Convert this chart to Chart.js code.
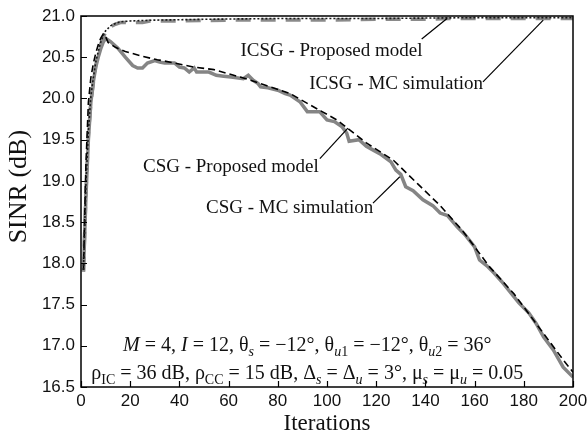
<!DOCTYPE html>
<html>
<head>
<meta charset="utf-8">
<script src="https://cdn.jsdelivr.net/npm/chart.js@4"></script>
<style>
  html, body { margin: 0; padding: 0; background: #fff; }
  #wrap { width: 587px; height: 440px; }
</style>
</head>
<body>
<div id="wrap"><canvas id="sinr"></canvas></div>
<script>
// SINR vs. iterations, CSG and ICSG beamformers
const icsgModelIter = [1, 2, 3, 4, 5, 6, 7, 8, 9, 10, 12, 14, 16, 20, 30, 50, 80, 120, 160, 200];
const icsgModelSinr = [17.92, 18.97, 19.6, 20.02, 20.25, 20.44, 20.57, 20.68, 20.76, 20.82, 20.88, 20.91, 20.93, 20.94, 20.95, 20.96, 20.97, 20.97, 20.98, 20.98];

const icsgMcIter = [1, 2, 3, 4, 5, 6, 7, 8, 9, 10, 12, 14, 16, 20, 25, 28, 40, 60, 80, 100, 120, 140, 150, 170, 200];
const icsgMcSinr = [17.9, 18.85, 19.55, 19.95, 20.18, 20.4, 20.56, 20.66, 20.74, 20.8, 20.87, 20.9, 20.92, 20.92, 20.92, 20.94, 20.94, 20.95, 20.95, 20.95, 20.96, 20.96, 20.97, 20.97, 20.97];

const csgModelIter = [1, 2, 3, 4, 5, 6, 7, 8, 9, 10, 11, 14, 18, 25, 31, 38, 46, 54, 67, 75, 85, 92, 98, 104, 110, 116, 127, 137, 146, 155, 166, 176, 187, 196, 200];
const csgModelSinr = [17.92, 19.2, 19.95, 20.25, 20.42, 20.55, 20.65, 20.73, 20.78, 20.75, 20.68, 20.62, 20.57, 20.51, 20.47, 20.43, 20.38, 20.35, 20.24, 20.16, 20.06, 19.94, 19.84, 19.74, 19.6, 19.46, 19.25, 18.96, 18.7, 18.4, 17.96, 17.63, 17.19, 16.83, 16.68];

const csgMcIter = [1, 2, 3, 4, 5, 6, 7, 8, 9, 10, 12, 15, 18, 21, 23, 25, 27, 30, 32, 34, 38, 40, 42, 44, 46, 47, 52, 55, 58, 61, 66, 68, 70, 72, 73, 76, 80, 83, 85, 89, 92, 97, 100, 103, 106, 108, 109, 113, 116, 119, 122, 126, 128, 130, 132, 135, 139, 143, 146, 149, 153, 156, 160, 162, 165, 168, 171, 174, 178, 182, 185, 188, 192, 196, 200];
const csgMcSinr = [17.9, 18.8, 19.5, 19.95, 20.2, 20.38, 20.5, 20.6, 20.68, 20.73, 20.69, 20.61, 20.5, 20.4, 20.37, 20.37, 20.43, 20.46, 20.44, 20.43, 20.43, 20.38, 20.37, 20.32, 20.37, 20.32, 20.32, 20.28, 20.27, 20.26, 20.24, 20.28, 20.22, 20.18, 20.14, 20.13, 20.1, 20.06, 20.04, 19.96, 19.84, 19.84, 19.74, 19.72, 19.66, 19.58, 19.48, 19.5, 19.42, 19.37, 19.32, 19.23, 19.13, 19.08, 18.93, 18.88, 18.77, 18.7, 18.61, 18.58, 18.44, 18.35, 18.2, 18.04, 17.97, 17.88, 17.78, 17.67, 17.52, 17.4, 17.27, 17.11, 16.95, 16.74, 16.62];

// curve labels: text anchor and leader line, in data units (iteration, dB)
const curveLabels = [
  { text: 'ICSG - Proposed model', at: [64.8, 20.58], from: [138.5, 20.72], to: [148.8, 20.97] },
  { text: 'ICSG - MC simulation', at: [92.8, 20.17], from: [163.4, 20.2], to: [187.9, 20.95] },
  { text: 'CSG - Proposed model', at: [25.2, 19.17], from: [97.1, 19.27], to: [108.5, 19.64] },
  { text: 'CSG - MC simulation', at: [50.8, 18.67], from: [118.7, 18.73], to: [129.6, 19.05] }
];

const SERIF = '"Liberation Serif", "Times New Roman", serif';
const SANS = '"Liberation Sans", Arial, sans-serif';

// parameter lines: n = upright, i = italic, s = subscript, si = italic subscript
const paramLine1 = [
  ['M', 'i'], [' = 4, ', 'n'], ['I', 'i'], [' = 12, ', 'n'],
  ['θ', 'n'], ['s', 'si'], [' = −12°, ', 'n'],
  ['θ', 'n'], ['u', 'si'], ['1', 's'], [' = −12°, ', 'n'],
  ['θ', 'n'], ['u', 'si'], ['2', 's'], [' = 36°', 'n']
];
const paramLine2 = [
  ['ρ', 'n'], ['IC', 's'], [' = 36 dB, ', 'n'],
  ['ρ', 'n'], ['CC', 's'], [' = 15 dB, ', 'n'],
  ['Δ', 'n'], ['s', 'si'], [' = ', 'n'], ['Δ', 'n'], ['u', 'si'], [' = 3°, ', 'n'],
  ['μ', 'n'], ['s', 'si'], [' = ', 'n'], ['μ', 'n'], ['u', 'si'], [' = 0.05', 'n']
];

function pts(xs, ys) {
  return xs.map((x, i) => ({ x: x, y: ys[i] }));
}

function runFont(kind) {
  if (kind === 'i') return 'italic 20px ' + SERIF;
  if (kind === 's') return '14px ' + SERIF;
  if (kind === 'si') return 'italic 14px ' + SERIF;
  return '20px ' + SERIF;
}

function drawRuns(ctx, runs, cx, y) {
  let total = 0;
  runs.forEach(r => { ctx.font = runFont(r[1]); total += ctx.measureText(r[0]).width; });
  let x = cx - total / 2;
  runs.forEach(r => {
    ctx.font = runFont(r[1]);
    const dy = (r[1] === 's' || r[1] === 'si') ? 5 : 0;
    ctx.fillText(r[0], x, y + dy);
    x += ctx.measureText(r[0]).width;
  });
}

const decorations = {
  id: 'decorations',
  afterDatasetsDraw(chart) {
    const ctx = chart.ctx;
    const a = chart.chartArea;
    const xs = chart.scales.x, ys = chart.scales.y;
    ctx.save();

    // frame
    ctx.strokeStyle = '#000';
    ctx.lineWidth = 1.5;
    ctx.strokeRect(a.left, a.top, a.right - a.left, a.bottom - a.top);

    // inward ticks on left and bottom
    ctx.lineWidth = 1.2;
    ctx.beginPath();
    xs.ticks.forEach(t => {
      const px = Math.round(xs.getPixelForValue(t.value)) + 0.5;
      ctx.moveTo(px, a.bottom);
      ctx.lineTo(px, a.bottom - 6);
    });
    ys.ticks.forEach(t => {
      const py = Math.round(ys.getPixelForValue(t.value)) + 0.5;
      ctx.moveTo(a.left, py);
      ctx.lineTo(a.left + 6, py);
    });
    ctx.stroke();

    // curve labels with leader lines
    ctx.fillStyle = '#111';
    ctx.textBaseline = 'middle';
    ctx.textAlign = 'left';
    ctx.font = '19px ' + SERIF;
    ctx.lineWidth = 1.2;
    curveLabels.forEach(l => {
      ctx.fillText(l.text, xs.getPixelForValue(l.at[0]), ys.getPixelForValue(l.at[1]));
      ctx.beginPath();
      ctx.moveTo(xs.getPixelForValue(l.from[0]), ys.getPixelForValue(l.from[1]));
      ctx.lineTo(xs.getPixelForValue(l.to[0]), ys.getPixelForValue(l.to[1]));
      ctx.stroke();
    });

    // parameters
    ctx.textBaseline = 'alphabetic';
    const cx = xs.getPixelForValue(92);
    drawRuns(ctx, paramLine1, cx, ys.getPixelForValue(16.94));
    drawRuns(ctx, paramLine2, cx, ys.getPixelForValue(16.6));

    // y axis title
    ctx.translate(19, ys.getPixelForValue(18.93));
    ctx.rotate(-Math.PI / 2);
    ctx.textAlign = 'center';
    ctx.textBaseline = 'middle';
    ctx.font = '26px ' + SERIF;
    ctx.fillText('SINR (dB)', 0, 0);
    ctx.restore();
  }
};

const ctx = document.getElementById('sinr').getContext('2d');
new Chart(ctx, {
  type: 'line',
  data: {
    datasets: [
      { label: 'ICSG - Proposed model', data: pts(icsgModelIter, icsgModelSinr), borderColor: '#1a1a1a', borderWidth: 1.6, borderDash: [2, 2] },
      { label: 'CSG - Proposed model', data: pts(csgModelIter, csgModelSinr), borderColor: '#000', borderWidth: 1.6, borderDash: [7, 4] },
      { label: 'ICSG - MC simulation', data: pts(icsgMcIter, icsgMcSinr), borderColor: '#8a8a8a', borderWidth: 3.5, borderDash: [15, 10] },
      { label: 'CSG - MC simulation', data: pts(csgMcIter, csgMcSinr), borderColor: '#858585', borderWidth: 3.5 }
    ]
  },
  options: {
    responsive: true,
    maintainAspectRatio: false,
    animation: false,
    elements: { point: { radius: 0 }, line: { tension: 0, fill: false } },
    layout: { padding: { top: 16, right: 14, left: 0, bottom: 0 } },
    plugins: { legend: { display: false }, tooltip: { enabled: false } },
    scales: {
      x: {
        type: 'linear', min: 0, max: 200,
        ticks: { stepSize: 20, color: '#111', font: { family: SANS, size: 17 }, padding: 4, maxRotation: 0 },
        grid: { display: false, drawTicks: false },
        border: { display: false },
        title: { display: true, text: 'Iterations', color: '#111', font: { family: SERIF, size: 23 }, padding: { top: 0, bottom: 2 } },
        afterFit(s) { s.height = 53; s.paddingLeft = 0; s.paddingRight = 0; }
      },
      y: {
        type: 'linear', min: 16.5, max: 21,
        ticks: { stepSize: 0.5, color: '#111', font: { family: SANS, size: 17 }, padding: 6, callback: v => v.toFixed(1) },
        grid: { display: false, drawTicks: false },
        border: { display: false },
        afterFit(s) { s.width = 81; s.paddingTop = 0; s.paddingBottom = 0; }
      }
    }
  },
  plugins: [decorations]
});
</script>
</body>
</html>
